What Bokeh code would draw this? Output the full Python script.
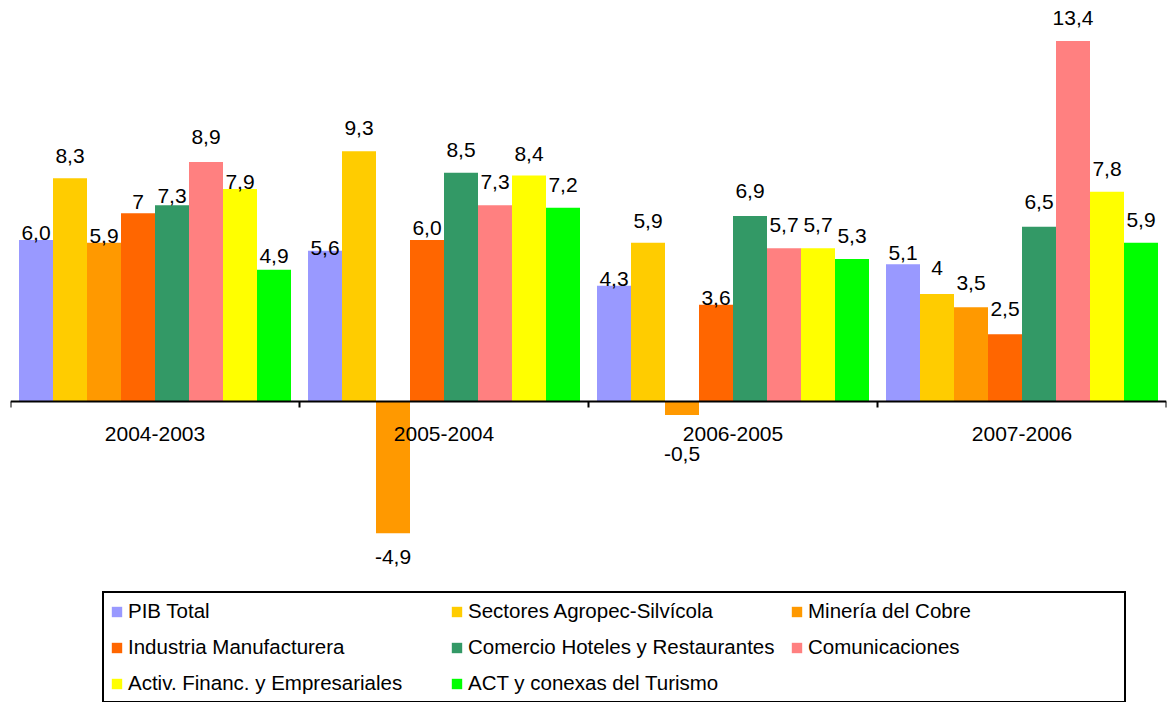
from bokeh.plotting import figure
from bokeh.models import ColumnDataSource, Range1d, Legend, LegendItem
from bokeh.core.properties import value
from bokeh.embed import file_html
from bokeh.resources import INLINE

# ---------------- data ----------------
periods = ["2004-2003", "2005-2004", "2006-2005", "2007-2006"]

series_names = [
    "PIB Total",
    "Sectores Agropec-Silvícola",
    "Minería del Cobre",
    "Industria Manufacturera",
    "Comercio Hoteles y Restaurantes",
    "Comunicaciones",
    "Activ. Financ. y Empresariales",
    "ACT y conexas del Turismo",
]

pib_total = [6.0, 5.6, 4.3, 5.1]
agropec = [8.3, 9.3, 5.9, 4.0]
mineria = [5.9, -4.9, -0.5, 3.5]
industria = [7.0, 6.0, 3.6, 2.5]
comercio = [7.3, 8.5, 6.9, 6.5]
comunicaciones = [8.9, 7.3, 5.7, 13.4]
financ = [7.9, 8.4, 5.7, 7.8]
turismo = [4.9, 7.2, 5.3, 5.9]

# value labels as printed on the chart
pib_total_txt = ["6,0", "5,6", "4,3", "5,1"]
agropec_txt = ["8,3", "9,3", "5,9", "4"]
mineria_txt = ["5,9", "-4,9", "-0,5", "3,5"]
industria_txt = ["7", "6,0", "3,6", "2,5"]
comercio_txt = ["7,3", "8,5", "6,9", "6,5"]
comunicaciones_txt = ["8,9", "7,3", "5,7", "13,4"]
financ_txt = ["7,9", "8,4", "5,7", "7,8"]
turismo_txt = ["4,9", "7,2", "5,3", "5,9"]

# ---------------- styling / layout ----------------
colors = ["#9999FF", "#FFCC00", "#FF9900", "#FF6600",
          "#339966", "#FF8080", "#FFFF00", "#00FF00"]

# pixel gap between bar end and its value label (as placed in the original)
label_gap = [
    [-1, -5, -1, 3],
    [14, 15, 14, 18],
    [-1, 17, 32, 16],
    [3, 4, -1, 17],
    [1, 15, 17, 17],
    [17, 15, 15, 15],
    [-1, 14, 15, 15],
    [6, 15, 15, 15],
]

FONT = "Liberation Sans"
W, H = 1169, 702
LEFT, RIGHT, TOP = 10, 3, 8
ZERO_FROM_TOP = 393          # frame top -> zero line, px
PPU = 26.9                   # px per unit
CAP = 15.0                   # cap height of the 21px labels
TEXT_FIX = -8                # baseline correction for rendered text

values = [pib_total, agropec, mineria, industria, comercio,
          comunicaciones, financ, turismo]
texts = [pib_total_txt, agropec_txt, mineria_txt, industria_txt,
         comercio_txt, comunicaciones_txt, financ_txt, turismo_txt]

n_groups = len(periods)
n_series = len(series_names)
bw = 1.0 / (n_series + 0.5)
frame_h = H - TOP

p = figure(width=W, height=H,
           x_range=Range1d(0, n_groups),
           y_range=Range1d(-(frame_h - ZERO_FROM_TOP) / PPU, ZERO_FROM_TOP / PPU),
           output_backend="svg", toolbar_location=None,
           x_axis_type=None, y_axis_type=None,
           min_border_left=LEFT, min_border_right=RIGHT,
           min_border_top=TOP, min_border_bottom=0,
           outline_line_color=None, background_fill_color="white",
           border_fill_color="white")

items = []
for i in range(n_series):
    xs = [g + 0.5 + (i - (n_series - 1) / 2) * bw for g in range(n_groups)]
    vals = values[i]
    yoff = [(-label_gap[i][g] if vals[g] >= 0 else label_gap[i][g] + CAP) + TEXT_FIX
            for g in range(n_groups)]
    src = ColumnDataSource(dict(x=xs, top=vals, txt=texts[i], yoff=yoff))
    r = p.vbar(x="x", top="top", bottom=0, width=bw, source=src,
               fill_color=colors[i], line_color=None)
    items.append(LegendItem(label=series_names[i], renderers=[r]))
    p.text(x="x", y="top", text="txt", y_offset="yoff", source=src,
           text_align="center", text_baseline="alphabetic",
           text_font=value(FONT), text_font_size="21px", text_color="black")

# category axis drawn at zero
p.segment(x0=[0], y0=[0], x1=[n_groups], y1=[0], line_color="black", line_width=2)
ticks = list(range(n_groups + 1))
p.segment(x0=ticks, y0=[0] * len(ticks), x1=ticks, y1=[-6 / PPU] * len(ticks),
          line_color="black", line_width=2)
cat_src = ColumnDataSource(dict(x=[g + 0.5 for g in range(n_groups)],
                                y=[0] * n_groups, txt=periods))
p.text(x="x", y="y", text="txt", y_offset=40 + TEXT_FIX, source=cat_src,
       text_align="center", text_baseline="alphabetic",
       text_font=value(FONT), text_font_size="21px", text_color="black")

legend = Legend(items=items, location=(92, -1), orientation="horizontal", ncols=3,
                border_line_color="black", border_line_width=2, border_line_alpha=1.0,
                background_fill_color="white", background_fill_alpha=1.0,
                label_text_font=FONT, label_text_font_size="20.5px",
                label_text_color="black",
                glyph_width=13, glyph_height=13, label_standoff=5,
                label_height=24, label_width=310, spacing=12,
                padding=6, margin=0)
p.add_layout(legend)

open("out.html", "w").write(file_html(p, INLINE))
